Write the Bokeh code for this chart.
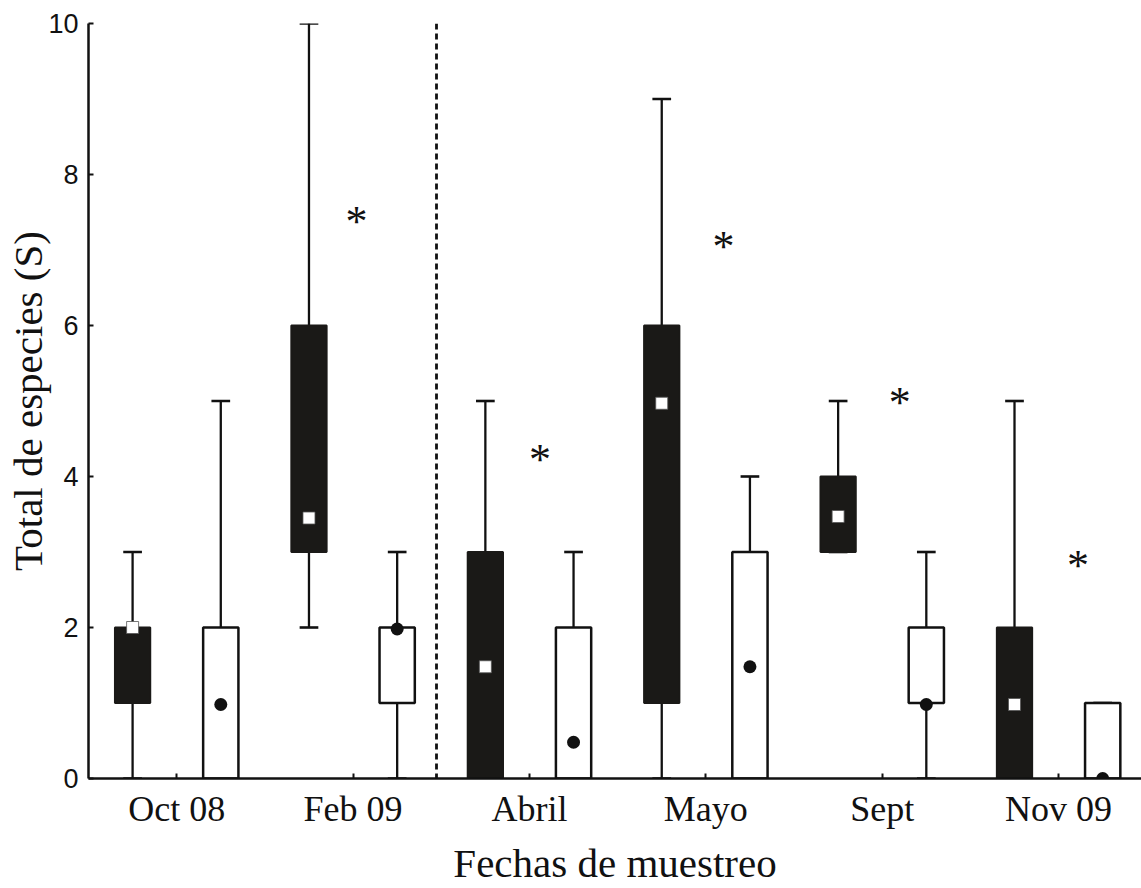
import numpy as np
from bokeh.plotting import figure
from bokeh.models import Range1d, FixedTicker, Span
from bokeh.core.properties import value
from bokeh.embed import file_html
from bokeh.resources import INLINE

# ---- data ----
cats = ["Oct 08", "Feb 09", "Abril", "Mayo", "Sept", "Nov 09"]

# black (filled) boxes
b_min = [0, 2, 0, 0, 3, 0]
b_q1 = [1, 3, 0, 1, 3, 0]
b_q3 = [2, 6, 3, 6, 4, 2]
b_max = [3, 10, 5, 9, 5, 5]
b_mid = [2.0, 3.45, 1.48, 4.97, 3.47, 0.98]

# white (open) boxes
w_min = [0, 0, 0, 0, 0, 0]
w_q1 = [0, 1, 0, 0, 1, 0]
w_q3 = [2, 2, 2, 3, 2, 1]
w_max = [5, 3, 3, 4, 3, 1]
w_mid = [0.98, 1.98, 0.48, 1.48, 0.98, 0.0]

# significance asterisks
star_cats = ["Feb 09", "Abril", "Mayo", "Sept", "Nov 09"]
star_shift = [0.02, 0.06, 0.10, 0.10, 0.11]
star_y = [7.46, 4.3, 7.12, 5.06, 2.9]

divider_x = 1.973
y_ticks = [0, 2, 4, 6, 8, 10]

# ---- layout helpers ----
idx = np.arange(len(cats)) + 0.5
xb = idx - 0.25
xw = idx + 0.25
box_w = 0.2
cap = 0.053
star_x = [idx[cats.index(c)] + s for c, s in zip(star_cats, star_shift)]

p = figure(width=1141, height=888,
           x_range=Range1d(0, 5.97), y_range=Range1d(0, 10),
           output_backend="svg", toolbar_location=None,
           min_border_left=88, min_border_right=0,
           min_border_top=23, min_border_bottom=110)
p.background_fill_color = "white"
p.border_fill_color = "white"
p.outline_line_color = None
p.grid.visible = False

K = "#111111"
# dashed divider
p.add_layout(Span(location=divider_x, dimension="height", line_color=K,
                  line_width=2.8, line_dash="6 4"))

# whiskers
for xs, lo, q1, q3, hi in [(xb, b_min, b_q1, b_q3, b_max), (xw, w_min, w_q1, w_q3, w_max)]:
    p.segment(x0=xs, y0=q3, x1=xs, y1=hi, line_color=K, line_width=2.3)
    p.segment(x0=xs, y0=q1, x1=xs, y1=lo, line_color=K, line_width=2.3)
    p.segment(x0=xs - cap, y0=hi, x1=xs + cap, y1=hi, line_color=K, line_width=2.6)
    p.segment(x0=xs - cap, y0=lo, x1=xs + cap, y1=lo, line_color=K, line_width=2.6)

# boxes
p.vbar(x=xb, width=box_w, bottom=b_q1, top=b_q3, fill_color="#1a1917",
       line_color="#1a1917", line_width=2)
p.vbar(x=xw, width=box_w, bottom=w_q1, top=w_q3, fill_color="white",
       line_color=K, line_width=2.5)

# central markers
p.scatter(x=xb, y=b_mid, marker="square", size=12, fill_color="white",
          line_color="#555555", line_width=0.8)
p.scatter(x=xw, y=w_mid, marker="circle", size=13, fill_color=K, line_color=None)

# asterisks
p.text(x=star_x, y=star_y, text=["*"] * len(star_x),
       text_font=value("Liberation Serif"), text_font_size="44px",
       text_align="center", text_baseline="middle", text_color=K, y_offset=6)

# axes
xa = p.xaxis[0]
xa.ticker = FixedTicker(ticks=list(idx))
xa.major_label_overrides = {float(v): c for v, c in zip(idx, cats)}
xa.minor_tick_line_color = None
xa.major_tick_in = 5
xa.major_tick_out = 0
xa.major_tick_line_width = 2
xa.axis_line_width = 2.5
xa.axis_line_color = K
xa.major_tick_line_color = K
xa.major_label_text_font = "Liberation Serif"
xa.major_label_text_font_size = "36px"
xa.major_label_text_color = K
xa.major_label_standoff = 10
xa.axis_label = "Fechas de muestreo"
xa.axis_label_text_font = "Liberation Serif"
xa.axis_label_text_font_size = "41px"
xa.axis_label_text_font_style = "normal"
xa.axis_label_text_color = K
xa.axis_label_standoff = 8

ya = p.yaxis[0]
ya.ticker = FixedTicker(ticks=y_ticks)
ya.minor_tick_line_color = None
ya.major_tick_in = 5
ya.major_tick_out = 0
ya.major_tick_line_width = 2
ya.axis_line_width = 2.5
ya.axis_line_color = K
ya.major_tick_line_color = K
ya.major_label_text_font = "Liberation Sans"
ya.major_label_text_font_size = "27px"
ya.major_label_text_color = K
ya.major_label_standoff = 10
ya.axis_label = "Total de especies (S)"
ya.axis_label_text_font = "Liberation Serif"
ya.axis_label_text_font_size = "41px"
ya.axis_label_text_font_style = "normal"
ya.axis_label_text_color = K
ya.axis_label_standoff = -6

open("out.html", "w").write(file_html(p, INLINE))
